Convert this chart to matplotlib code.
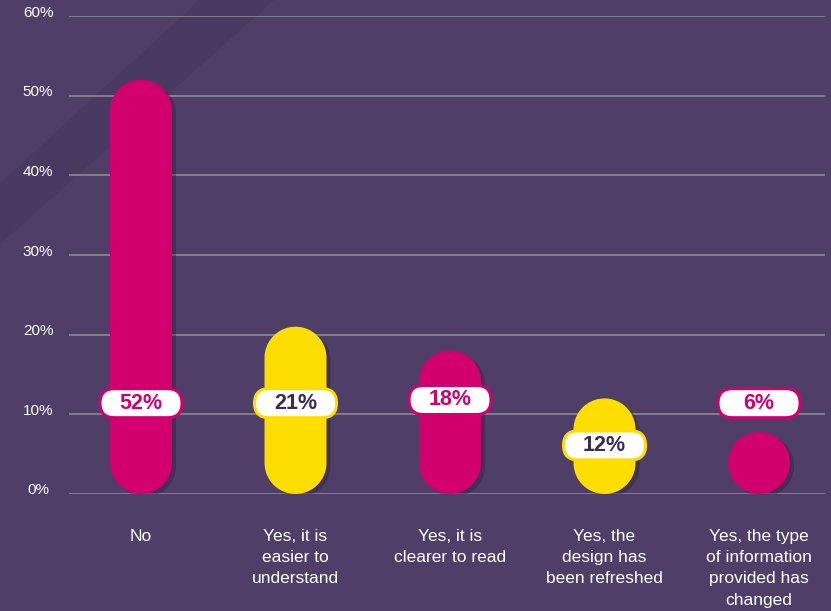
import matplotlib
matplotlib.use("Agg")
import numpy as np
import matplotlib.pyplot as plt
from matplotlib.path import Path
from matplotlib.patches import PathPatch, FancyBboxPatch
import matplotlib.transforms as mtransforms

plt.rcParams["font.family"] = ["Liberation Sans", "DejaVu Sans"]

# ---- data ----
categories = [
    "No",
    "Yes, it is\neasier to\nunderstand",
    "Yes, it is\nclearer to read",
    "Yes, the\ndesign has\nbeen refreshed",
    "Yes, the type\nof information\nprovided has\nchanged",
]
values = [52, 21, 18, 12, 6]
y_ticks = [0, 10, 20, 30, 40, 50, 60]
y_tick_labels = [f"{v}%" for v in y_ticks]

# ---- style ----
BG = "#4f3f68"
MAGENTA = "#d1006e"
YELLOW = "#fedd00"
DARK = "#3b2a58"
GRID = "#8e8a8c"
bar_colors = [MAGENTA, YELLOW, MAGENTA, YELLOW, MAGENTA]
text_colors = [MAGENTA, DARK, MAGENTA, DARK, MAGENTA]
label_y = [11.4, 11.4, 11.8, 6.1, 11.4]

W, H, DPI = 8.31, 6.11, 100
fig = plt.figure(figsize=(W, H), dpi=DPI, facecolor=BG)

# faint darker diagonal shading in the upper left of the backdrop
bg_ax = fig.add_axes([0, 0, 1, 1], zorder=-5)
bg_ax.set_xlim(0, 1); bg_ax.set_ylim(0, 1); bg_ax.axis("off")
bg_ax.fill([0, 0.33, 0.24, 0], [0.6, 1, 1, 0.7], color="#3a2d50", alpha=0.25, lw=0)

ax_left, ax_right = 69 / 831, 825 / 831
ax_bottom, ax_top = 117 / 611, 595 / 611
ax = fig.add_axes([ax_left, ax_bottom, ax_right - ax_left, ax_top - ax_bottom])
ax.set_facecolor("none")

x = np.arange(len(categories))
x_left, x_right = -0.466, 4.427
ax.set_xlim(x_left, x_right)
ax.set_ylim(0, 60)

# pixel scales for keeping round caps circular
px_per_x = (ax_right - ax_left) * W * DPI / (x_right - x_left)
px_per_y = (ax_top - ax_bottom) * H * DPI / 60.0
bar_px = 62
hw = bar_px / 2 / px_per_x
ry = bar_px / 2 / px_per_y


def pill_path(xc, top):
    theta_top = np.linspace(0, np.pi, 40)
    theta_bot = np.linspace(np.pi, 2 * np.pi, 40)
    top_c = max(top - ry, ry)
    bot_c = ry
    xs = np.concatenate([xc + hw * np.cos(theta_top), xc + hw * np.cos(theta_bot)])
    ys = np.concatenate([top_c + ry * np.sin(theta_top), bot_c + ry * np.sin(theta_bot)])
    verts = np.column_stack([xs, ys])
    verts = np.vstack([verts, verts[:1]])
    codes = [Path.MOVETO] + [Path.LINETO] * (len(verts) - 2) + [Path.CLOSEPOLY]
    return Path(verts, codes)


# grid lines
for v in y_ticks:
    ax.axhline(v, color=GRID, lw=1.2, zorder=1)

for xi, v, c in zip(x, values, bar_colors):
    path = pill_path(xi, v)
    shadow = PathPatch(path, facecolor="#1e1230", edgecolor="none", alpha=0.3, zorder=2,
                       transform=ax.transData + mtransforms.Affine2D().translate(4, -3))
    ax.add_patch(shadow)
    ax.add_patch(PathPatch(path, facecolor=c, edgecolor="none", zorder=3))

# value labels in pill-shaped white boxes
for xi, v, c, tc, ly in zip(x, values, bar_colors, text_colors, label_y):
    trans = fig.dpi_scale_trans + mtransforms.ScaledTranslation(xi, ly, ax.transData)
    box = FancyBboxPatch((-0.41, -0.145), 0.82, 0.29,
                         boxstyle="round,pad=0,rounding_size=0.145",
                         facecolor="white", edgecolor=c, lw=2.2,
                         transform=trans, zorder=4, clip_on=False)
    ax.add_patch(box)
    ax.text(xi, ly, f"{v}%", ha="center", va="center", color=tc,
            fontsize=15.5, fontweight="bold", zorder=5)

# axes cosmetics
for s in ax.spines.values():
    s.set_visible(False)
ax.set_yticks(y_ticks)
ax.set_yticklabels(y_tick_labels)
ax.tick_params(axis="y", length=0, pad=0, labelcolor="white", labelsize=11)
for lab in ax.get_yticklabels():
    lab.set_horizontalalignment("center")
    lab.set_transform(lab.get_transform() +
                      mtransforms.ScaledTranslation(-31 / DPI, 5 / DPI, fig.dpi_scale_trans))

ax.set_xticks(x)
ax.set_xticklabels(categories)
ax.tick_params(axis="x", length=0, pad=25, labelcolor="white", labelsize=12.5)
for lab in ax.get_xticklabels():
    lab.set_linespacing(1.53)

fig.savefig("out.png", dpi=DPI, facecolor=BG)
